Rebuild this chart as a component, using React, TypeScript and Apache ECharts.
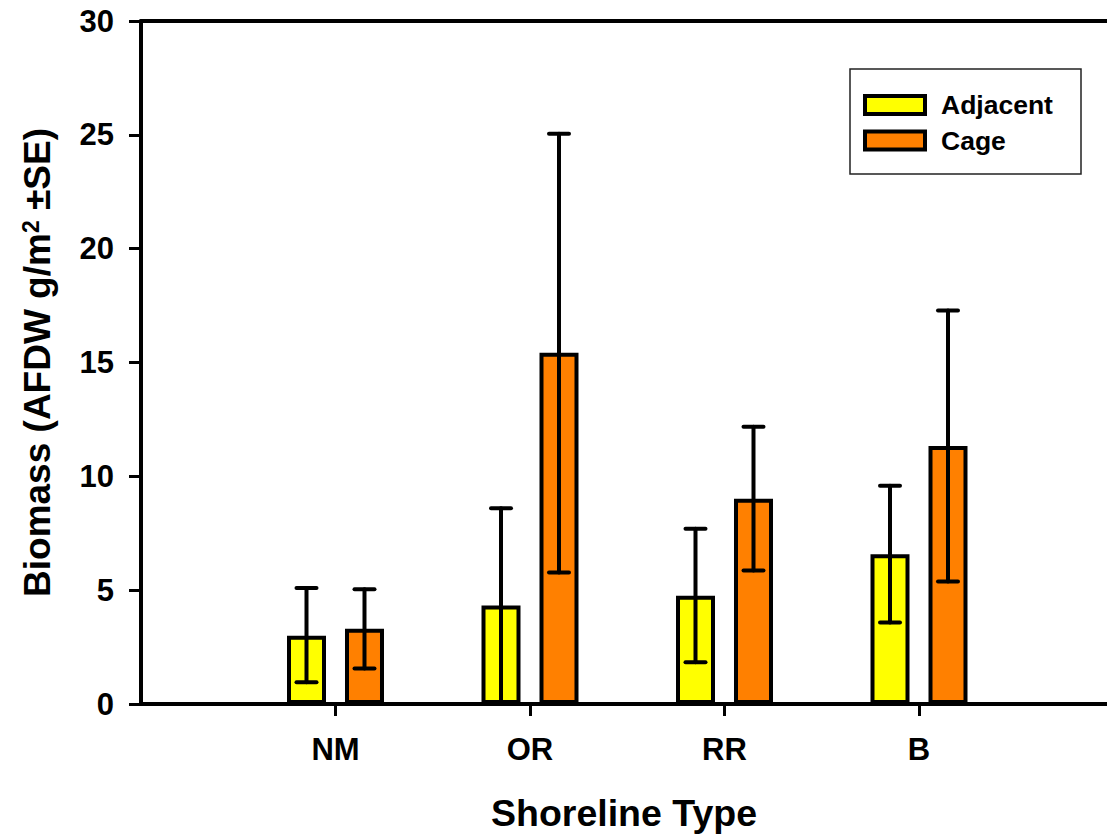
import React, { useEffect, useRef } from "react";
import * as echarts from "echarts";

const categories = ["NM", "OR", "RR", "B"];
const seriesNames = ["Adjacent", "Cage"];
const adjacent = [3.0, 4.33, 4.76, 6.58];
const cage = [3.3, 15.43, 9.02, 11.33];
const adjacentLow = [0.95, 0.07, 1.83, 3.58];
const adjacentHigh = [5.09, 8.6, 7.7, 9.59];
const cageLow = [1.56, 5.78, 5.86, 5.38];
const cageHigh = [5.04, 25.05, 12.18, 17.28];
const yMin = 0;
const yMax = 30;
const yInterval = 5;

const FONT = "'Liberation Sans', Arial, sans-serif";
const BAR_W = 39;
const BAR_GAP = 0.487;
const OFFSET = (BAR_W + BAR_W * BAR_GAP) / 2;
const GRID_LEFT = 141;
const SLOT_PX = 194.5;
const X_MAX = (1107 - GRID_LEFT) / SLOT_PX;

export default function App() {
  const ref = useRef<HTMLDivElement>(null);
  useEffect(() => {
    if (!ref.current) return;
    const chart = echarts.init(ref.current, null, { renderer: "svg" });
    const positions = categories.map((_, i) => i + 1);
    const barData = (arr: number[]) => arr.map((v, i) => [positions[i], v]);
    const errData = (lo: number[], hi: number[]) =>
      categories.map((_, i) => [positions[i], lo[i], hi[i]]);
    const errSeries = (name: string, lo: number[], hi: number[], off: number) => ({
      type: "custom",
      name: name + " SE",
      xAxisIndex: 0,
      yAxisIndex: 0,
      z: 10,
      clip: false,
      encode: { x: 0, y: [1, 2] },
      data: errData(lo, hi),
      renderItem: (params: any, api: any) => {
        const x = api.value(0);
        const a = api.coord([x, api.value(1)]);
        const b = api.coord([x, api.value(2)]);
        const cx = a[0] + off;
        const st = { stroke: "#000", lineWidth: 4, lineCap: "round" };
        return {
          type: "group",
          children: [
            { type: "line", shape: { x1: cx, y1: a[1], x2: cx, y2: b[1] }, style: st },
            { type: "line", shape: { x1: cx - 10, y1: a[1], x2: cx + 10, y2: a[1] }, style: st },
            { type: "line", shape: { x1: cx - 10, y1: b[1], x2: cx + 10, y2: b[1] }, style: st },
          ],
        };
      },
    });
    const option: any = {
      animation: false,
      backgroundColor: "#fff",
      grid: { left: GRID_LEFT, top: 21, right: 0, bottom: 132, containLabel: false },
      legend: {
        data: seriesNames,
        orient: "vertical",
        left: 863,
        top: 91.5,
        padding: 0,
        itemWidth: 60,
        itemHeight: 18,
        itemGap: 8.5,
        icon: "rect",
        selectedMode: false,
        itemStyle: { borderColor: "#000", borderWidth: 4 },
        textStyle: {
          fontFamily: FONT,
          fontSize: 26.5,
          fontWeight: "bold",
          color: "#000",
          padding: [0, 0, 0, 11],
        },
      },
      graphic: [
        {
          type: "rect",
          shape: { x: 850, y: 69, width: 231, height: 105 },
          style: { fill: "none", stroke: "#222", lineWidth: 1.5 },
          z: 100,
        },
      ],
      xAxis: [
        {
          type: "value",
          min: 0,
          max: X_MAX,
          position: "bottom",
          name: "Shoreline Type",
          nameLocation: "middle",
          nameGap: 90,
          nameTextStyle: { fontFamily: FONT, fontSize: 37.5, fontWeight: "bold", color: "#000" },
          axisLine: { show: true, onZero: false, lineStyle: { color: "#000", width: 4 } },
          axisTick: {
            show: true,
            length: 12,
            inside: false,
            customValues: positions,
            lineStyle: { color: "#000", width: 3 },
          },
          axisLabel: {
            margin: 30,
            fontFamily: FONT,
            fontSize: 31,
            fontWeight: "bold",
            color: "#000",
            customValues: positions,
            formatter: (v: number) => categories[Math.round(v) - 1] || "",
          },
          splitLine: { show: false },
        },
        {
          type: "value",
          min: 0,
          max: X_MAX,
          position: "top",
          axisLine: { show: true, onZero: false, lineStyle: { color: "#000", width: 4 } },
          axisTick: { show: false },
          axisLabel: { show: false },
          splitLine: { show: false },
        },
      ],
      yAxis: {
        type: "value",
        min: yMin,
        max: yMax,
        interval: yInterval,
        name: "{a|Biomass (AFDW g/m}{s|2}{a| ±SE)}",
        nameLocation: "middle",
        nameGap: 85,
        nameTextStyle: {
          fontFamily: FONT,
          fontSize: 37,
          fontWeight: "bold",
          color: "#000",
          rich: {
            a: { fontFamily: FONT, fontSize: 37, fontWeight: "bold", color: "#000", lineHeight: 37, verticalAlign: "bottom" },
            s: { fontFamily: FONT, fontSize: 23, fontWeight: "bold", color: "#000", lineHeight: 23, verticalAlign: "top", padding: [0, 0, 22, 0] },
          },
        },
        axisLine: { show: true, onZero: false, lineStyle: { color: "#000", width: 4 } },
        axisTick: { show: true, length: 12, inside: false, lineStyle: { color: "#000", width: 3 } },
        axisLabel: {
          margin: 27,
          fontFamily: FONT,
          fontSize: 31,
          fontWeight: "bold",
          color: "#000",
        },
        splitLine: { show: false },
      },
      series: [
        {
          type: "bar",
          name: seriesNames[0],
          data: barData(adjacent),
          barWidth: BAR_W,
          barGap: BAR_GAP * 100 + "%",
          clip: false,
          itemStyle: { color: "#FFFF00", borderColor: "#000", borderWidth: 4 },
        },
        {
          type: "bar",
          name: seriesNames[1],
          data: barData(cage),
          barWidth: BAR_W,
          barGap: BAR_GAP * 100 + "%",
          clip: false,
          itemStyle: { color: "#FF8000", borderColor: "#000", borderWidth: 4 },
        },
        errSeries(seriesNames[0], adjacentLow, adjacentHigh, -OFFSET),
        errSeries(seriesNames[1], cageLow, cageHigh, OFFSET),
      ],
    };
    chart.setOption(option);
    return () => chart.dispose();
  }, []);
  return (
    <div
      ref={ref}
      style={{ position: "absolute", left: 0, top: 0, width: 1107, height: 837, background: "#fff" }}
    />
  );
}
